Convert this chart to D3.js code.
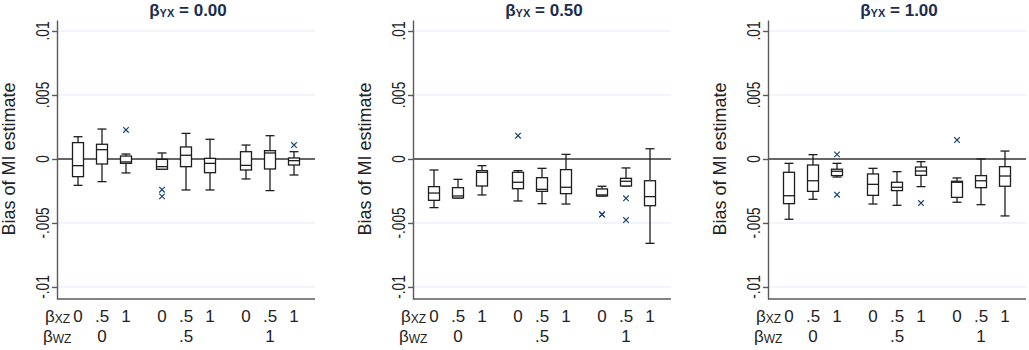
<!DOCTYPE html>
<html lang="en">
<head>
<meta charset="UTF-8">
<title>Bias of MI estimate</title>
<script src="https://d3js.org/d3.v7.min.js"></script>
<style>
  body { margin: 0; background: #fff; }
  text { font-family: "Liberation Sans", Arial, sans-serif; }
  .title { font-weight: bold; fill: #1c2d50; font-size: 17px; }
</style>
</head>
<body>
<svg width="1029" height="350"></svg>
<script>
// panel titles (beta_YX values)
var yxValues = ["0.00", "0.50", "1.00"];
// category labels
var xzLabels = ["0", ".5", "1"];
var wzLabels = ["0", ".5", "1"];
var yTicks = [0.01, 0.005, 0, -0.005, -0.01];
var yTickLabels = [".01", ".005", "0", "-.005", "-.01"];

// boxes: [lower whisker, q1, median, q3, upper whisker], order xz within wz
var boxesYX0 = [
  [-0.00206, -0.00138, -0.00052, 0.00128, 0.00174],
  [-0.00177, -0.00039, 0.00073, 0.00115, 0.00234],
  [-0.00109, -0.00034, -0.00023, 0.00023, 0.00039],
  [-0.00080, -0.00080, -0.00060, -0.00003, 0.00047],
  [-0.00242, -0.00060, 0.00029, 0.00094, 0.00200],
  [-0.00242, -0.00107, -0.00034, 0.00005, 0.00154],
  [-0.00156, -0.00086, -0.00050, 0.00057, 0.00109],
  [-0.00247, -0.00078, 0.00047, 0.00065, 0.00182],
  [-0.00125, -0.00047, -0.00013, 0.00008, 0.00057]
];
var boxesYX50 = [
  [-0.00380, -0.00323, -0.00266, -0.00216, -0.00086],
  [-0.00305, -0.00305, -0.00289, -0.00224, -0.00159],
  [-0.00281, -0.00211, -0.00104, -0.00091, -0.00052],
  [-0.00328, -0.00232, -0.00182, -0.00104, -0.00091],
  [-0.00349, -0.00253, -0.00237, -0.00146, -0.00073],
  [-0.00352, -0.00271, -0.00221, -0.00083, 0.00036],
  [-0.00289, -0.00289, -0.00281, -0.00234, -0.00213],
  [-0.00211, -0.00211, -0.00174, -0.00151, -0.00070],
  [-0.00659, -0.00365, -0.00294, -0.00170, 0.00080]
];
var boxesYX100 = [
  [-0.00471, -0.00349, -0.00287, -0.00104, -0.00034],
  [-0.00315, -0.00253, -0.00170, -0.00047, 0.00034],
  [-0.00141, -0.00130, -0.00096, -0.00080, -0.00034],
  [-0.00352, -0.00284, -0.00198, -0.00117, -0.00073],
  [-0.00362, -0.00247, -0.00221, -0.00182, -0.00099],
  [-0.00216, -0.00128, -0.00094, -0.00063, -0.00021],
  [-0.00338, -0.00300, -0.00182, -0.00174, -0.00148],
  [-0.00357, -0.00224, -0.00170, -0.00130, 0.00000],
  [-0.00445, -0.00213, -0.00133, -0.00060, 0.00062]
];
// outliers: [box index, value]
var outliersYX0 = [[2, 0.00227], [3, -0.00240], [3, -0.00292], [8, 0.00109]];
var outliersYX50 = [[3, 0.00182], [6, -0.00432], [6, -0.00435], [7, -0.00307], [7, -0.00477]];
var outliersYX100 = [[2, 0.00036], [2, -0.00279], [5, -0.00344], [6, 0.00148]];

var panels = [
  { yx: yxValues[0], boxes: boxesYX0, outliers: outliersYX0, left: 57 },
  { yx: yxValues[1], boxes: boxesYX50, outliers: outliersYX50, left: 413 },
  { yx: yxValues[2], boxes: boxesYX100, outliers: outliersYX100, left: 768 }
];

var plotW = 258, plotTop = 20, plotBottom = 299;
var positions = [0, 1, 2, 3.5, 4.5, 5.5, 7, 8, 9];

var svg = d3.select("svg");
var x = d3.scaleLinear().domain([-0.875, 9.875]).range([0, plotW]);
var y = d3.scaleLinear().domain([-0.01094, 0.01086]).range([plotBottom, plotTop]);
var boxW = 11, capW = 9;
var ink = "#1e1e1e";

panels.forEach(function(p) {
  var g = svg.append("g").attr("transform", "translate(" + p.left + ",0)");

  // grid lines
  g.selectAll(".grid").data(yTicks.filter(function(d) { return d !== 0; }))
    .enter().append("line")
    .attr("x1", 0).attr("x2", plotW)
    .attr("y1", function(d) { return y(d); }).attr("y2", function(d) { return y(d); })
    .attr("stroke", "#e4ebf4").attr("stroke-width", 1);

  // zero reference line
  g.append("line").attr("x1", 0).attr("x2", plotW)
    .attr("y1", y(0)).attr("y2", y(0))
    .attr("stroke", "#333").attr("stroke-width", 1.4);

  // y axis
  var ax = g.append("g")
    .call(d3.axisLeft(y).tickValues(yTicks).tickSize(5).tickSizeOuter(0).tickFormat(""));
  ax.select(".domain").attr("stroke", "#5a5a5a").attr("stroke-width", 1.4);
  ax.selectAll(".tick line").attr("stroke", "#5a5a5a").attr("stroke-width", 1.4);

  g.selectAll(".ylab").data(yTicks).enter().append("text")
    .attr("transform", function(d) { return "translate(-8.5," + y(d) + ") rotate(-90) scale(0.72,1)"; })
    .attr("text-anchor", "middle")
    .attr("font-size", 19)
    .attr("fill", "#222")
    .text(function(d, i) { return yTickLabels[i]; });

  g.append("text")
    .attr("transform", "translate(-42," + y(0) + ") rotate(-90)")
    .attr("text-anchor", "middle")
    .attr("font-size", 18)
    .attr("fill", "#222")
    .text("Bias of MI estimate");

  // x axis line
  g.append("line").attr("x1", 0).attr("x2", plotW)
    .attr("y1", plotBottom).attr("y2", plotBottom)
    .attr("stroke", "#5a5a5a").attr("stroke-width", 1.4);

  // title
  var t = g.append("text").attr("class", "title")
    .attr("x", plotW / 2 + 2).attr("y", 16).attr("text-anchor", "middle");
  t.append("tspan").text("β");
  t.append("tspan").attr("font-size", 11).attr("dy", 1).text("YX");
  t.append("tspan").attr("dy", -1).text(" = " + p.yx);

  // boxes
  var bx = g.selectAll(".box").data(p.boxes).enter().append("g")
    .attr("transform", function(d, i) { return "translate(" + x(positions[i]) + ",0)"; });
  bx.append("line").attr("x1", 0).attr("x2", 0)
    .attr("y1", function(d) { return y(d[4]); }).attr("y2", function(d) { return y(d[3]); })
    .attr("stroke", ink).attr("stroke-width", 1.3);
  bx.append("line").attr("x1", 0).attr("x2", 0)
    .attr("y1", function(d) { return y(d[1]); }).attr("y2", function(d) { return y(d[0]); })
    .attr("stroke", ink).attr("stroke-width", 1.3);
  bx.append("line").attr("x1", -capW / 2).attr("x2", capW / 2)
    .attr("y1", function(d) { return y(d[4]); }).attr("y2", function(d) { return y(d[4]); })
    .attr("stroke", ink).attr("stroke-width", 1.3);
  bx.append("line").attr("x1", -capW / 2).attr("x2", capW / 2)
    .attr("y1", function(d) { return y(d[0]); }).attr("y2", function(d) { return y(d[0]); })
    .attr("stroke", ink).attr("stroke-width", 1.3);
  bx.append("rect").attr("x", -boxW / 2).attr("width", boxW)
    .attr("y", function(d) { return y(d[3]); })
    .attr("height", function(d) { return y(d[1]) - y(d[3]); })
    .attr("fill", "#fff").attr("stroke", ink).attr("stroke-width", 1.3);
  bx.append("line").attr("x1", -boxW / 2).attr("x2", boxW / 2)
    .attr("y1", function(d) { return y(d[2]); }).attr("y2", function(d) { return y(d[2]); })
    .attr("stroke", ink).attr("stroke-width", 1.3);

  // outliers
  g.selectAll(".out").data(p.outliers).enter().append("path")
    .attr("transform", function(d) { return "translate(" + x(positions[d[0]]) + "," + y(d[1]) + ")"; })
    .attr("d", d3.symbol(d3.symbolX, 22))
    .attr("fill", "none").attr("stroke", "#1a476f").attr("stroke-width", 1.2);

  // category labels
  var r1 = g.append("text").attr("x", -12).attr("y", 322).attr("font-size", 17).attr("fill", "#222");
  r1.append("tspan").text("β");
  r1.append("tspan").attr("font-size", 12).attr("dy", 1).text("XZ");
  g.selectAll(".xz").data(positions).enter().append("text")
    .attr("x", function(d) { return x(d); }).attr("y", 322)
    .attr("text-anchor", "middle").attr("font-size", 17).attr("fill", "#222")
    .text(function(d, i) { return xzLabels[i % 3]; });

  var r2 = g.append("text").attr("x", -14).attr("y", 342).attr("font-size", 17).attr("fill", "#222");
  r2.append("tspan").text("β");
  r2.append("tspan").attr("font-size", 12).attr("dy", 1).text("WZ");
  g.selectAll(".wz").data(wzLabels).enter().append("text")
    .attr("x", function(d, i) { return x(positions[i * 3 + 1]); }).attr("y", 342)
    .attr("text-anchor", "middle").attr("font-size", 17).attr("fill", "#222")
    .text(function(d) { return d; });
});
</script>
</body>
</html>
